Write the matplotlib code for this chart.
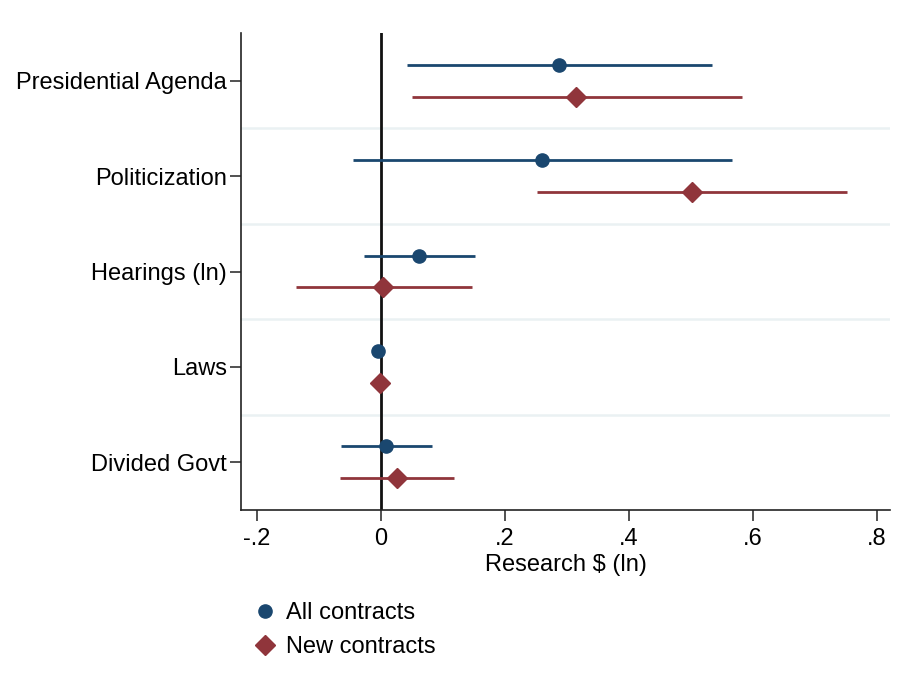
import numpy as np
import matplotlib
matplotlib.use("Agg")
import matplotlib.pyplot as plt
from matplotlib.lines import Line2D

plt.rcParams["font.family"] = ["Liberation Sans", "DejaVu Sans"]

categories = ["Presidential Agenda", "Politicization", "Hearings (ln)", "Laws", "Divided Govt"]

all_est = [0.287, 0.260, 0.061, -0.005, 0.008]
all_lo = [0.041, -0.045, -0.028, -0.006, -0.065]
all_hi = [0.534, 0.566, 0.151, -0.004, 0.082]

new_est = [0.315, 0.501, 0.003, -0.002, 0.026]
new_lo = [0.050, 0.251, -0.137, -0.003, -0.066]
new_hi = [0.582, 0.752, 0.146, -0.001, 0.117]

xticks = [-0.2, 0, 0.2, 0.4, 0.6, 0.8]
xticklabels = ["-.2", "0", ".2", ".4", ".6", ".8"]

blue = "#1a476f"
red = "#90353b"
fs = 17

fig = plt.figure(figsize=(9.04, 6.96), dpi=100)
ax = fig.add_axes([241 / 904, 186 / 696, 649 / 904, 477 / 696])

pos = np.arange(1, len(categories) + 1)
off = 0.167

# separators between groups
for y in pos[:-1] + 0.5:
    ax.axhline(y, color="#eaf1f3", lw=1.8, zorder=0)

ax.axvline(0, color="#111111", lw=2, zorder=1)

ax.hlines(pos - off, all_lo, all_hi, color=blue, lw=2, zorder=2)
ax.plot(all_est, pos - off, "o", color=blue, ms=9.5, zorder=3)

ax.hlines(pos + off, new_lo, new_hi, color=red, lw=2, zorder=2)
ax.plot(new_est, pos + off, "D", color=red, ms=10, zorder=3)

ax.set_ylim(5.5, 0.5)
ax.set_xlim(-0.226, 0.821)
ax.set_yticks(pos)
ax.set_yticklabels(categories, fontsize=fs)
ax.set_xticks(xticks)
ax.set_xticklabels(xticklabels, fontsize=fs)
ax.set_xlabel("Research $ (ln)", fontsize=fs, labelpad=3)

for s in ["top", "right"]:
    ax.spines[s].set_visible(False)
for s in ["left", "bottom"]:
    ax.spines[s].set_color("#222222")
    ax.spines[s].set_linewidth(1.2)
ax.tick_params(axis="both", length=8, width=1.2, color="#333333")
ax.tick_params(axis="x", pad=5)
ax.tick_params(axis="y", pad=2)

handles = [
    Line2D([], [], marker="o", color=blue, ls="none", ms=9.5),
    Line2D([], [], marker="D", color=red, ls="none", ms=10),
]
fig.legend(handles, ["All contracts", "New contracts"], loc="upper left",
           bbox_to_anchor=(251 / 904, 1 - 602 / 696), frameon=False,
           fontsize=fs, handletextpad=0.3, labelspacing=0.5, handlelength=1.2,
           borderpad=0, borderaxespad=0)

fig.savefig("out.png", dpi=100)
